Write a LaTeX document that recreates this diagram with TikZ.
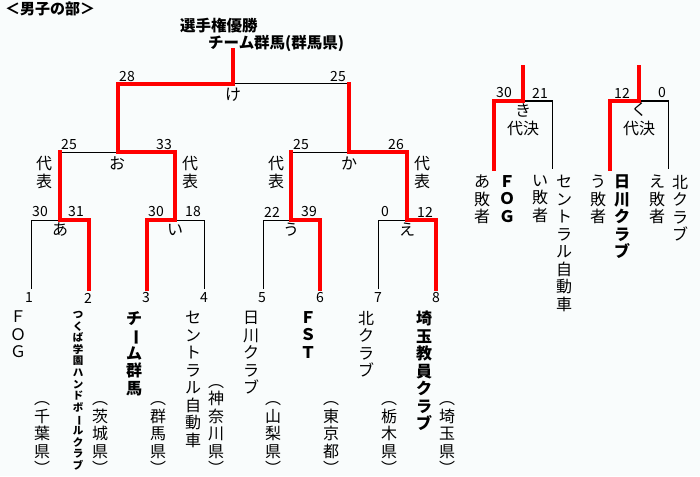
\documentclass[tikz,border=0pt]{standalone}
\usepackage{fontspec}
\usepackage{graphicx}
\setmainfont{Noto Sans CJK JP}
\newcommand\choon{\rotatebox[origin=c]{-90}{ー}}
\definecolor{bgcol}{RGB}{249,252,252}

\begin{document}
\begin{tikzpicture}[x=1pt, y=-1pt,
  win/.style={draw=red, line width=3.3pt, line cap=rect, line join=miter},
  lose/.style={draw=black, line width=1pt},
  pts/.style={inner sep=0pt, font=\fontsize{14}{16}\selectfont},
  lbl/.style={inner sep=0pt, font=\fontsize{16}{18}\selectfont},
  vname/.style={anchor=north, align=center, inner sep=0pt, font=\fontsize{16}{17.5}\selectfont},
  wname/.style={font=\bfseries\fontsize{16}{17.5}\selectfont},
  vpref/.style={anchor=south, align=center, inner sep=0pt, font=\fontsize{16}{17.5}\selectfont},
]
\fill[bgcol] (0,0) rectangle (700,476);

%headings
\node[anchor=west, inner sep=0pt, font=\bfseries\fontsize{15}{17}\selectfont] (head) at (5,9) {＜男子の部＞};
\node[anchor=west, inner sep=0pt, font=\bfseries\fontsize{15.5}{17}\selectfont] (champ) at (180,26) {選手権優勝};
\node[anchor=west, inner sep=0pt, font=\bfseries\fontsize{15.5}{17}\selectfont] (champteam) at (208,43) {チーム群馬(群馬県)};

%bracket points
\foreach \i/\x in {1/31,2/89,3/147,4/204,5/263,6/320,7/378,8/436}
  \coordinate (t\i) at (\x,289);
\coordinate (ma) at (60,220);
\coordinate (mi) at (175,220);
\coordinate (mu) at (291,220);
\coordinate (me) at (407,220);
\coordinate (mo) at (118,152);
\coordinate (mka) at (349,152);
\coordinate (mke) at (233,84);
\coordinate (top) at (233,50);

%losing lines
\draw[lose] (t1) |- (ma);
\draw[lose] (t4) |- (mi);
\draw[lose] (t5) |- (mu);
\draw[lose] (t7) |- (me);
\draw[lose] (ma |- mo) -- (mo);
\draw[lose] (mu |- mka) -- (mka);
\draw[lose] (mka |- mke) -- (mke);

%winning lines
\draw[win] (t2) |- (ma) -- (ma |- mo);
\draw[win] (t6) |- (mu) -- (mu |- mka);
\draw[win] (t8) |- (me) |- (mka) -- (mka |- mke);
\draw[win] (t3) |- (mi) |- (mo) |- (mke) -- (top);

%playoff brackets
\coordinate (ki) at (523,101); \coordinate (kitop) at (523,67);
\coordinate (kil) at (494,169); \coordinate (kir) at (552,169);
\coordinate (ku) at (639,101); \coordinate (kutop) at (639,67);
\coordinate (kul) at (610,169); \coordinate (kur) at (668,169);
\draw[lose] (ki) -| (kir);
\draw[lose] (ku) -| (kur);
\draw[win] (kitop) -- (ki) -| (kil);
\draw[win] (kutop) -- (ku) -| (kul);

%scores
\foreach \nm/\x/\y/\s in {k1/127/77/28, k2/338/77/25, o1/69/145/25, o2/164/145/33,
    ka1/301/145/25, ka2/396/145/26, a1/40/212/30, a2/76/212/31, i1/156/212/30,
    i2/193/212/18, u1/272/212/22, u2/309/212/39, e1/385/212/0, e2/425/212/12,
    ki1/504/93/30, ki2/540/93/21, ku1/622/93/12, ku2/662/93/0}
  \node[pts] (s-\nm) at (\x,\y) {\s};

%match names
\foreach \nm/\x/\y/\t in {ke/233/95/け, o/117/163/お, ka/349/163/か, a/60/230/あ,
    i/175/230/い, u/291/230/う, e/407/230/え, ki/523/110/き, ku/639/110/く}
  \node[lbl] (l-\nm) at (\x,\y) {\t};
\foreach \i/\x in {1/44,2/190,3/276,4/422}
  \node[lbl, align=center] (rep\i) at (\x,172) {代\\表};
\node[lbl] (dk1) at (523,128) {代決};
\node[lbl] (dk2) at (639,128) {代決};

%draw numbers
\foreach \i/\x in {1/29,2/88,3/146,4/204,5/262,6/320,7/378,8/436}
  \node[pts] (n\i) at (\x,298) {\i};

%teams
\node[vname] (team1) at (18,311) {Ｆ\\Ｏ\\Ｇ};
\node[vname, font=\bfseries\fontsize{10.5}{11.6}\selectfont] (team2) at (78,311)
  {つ\\く\\ば\\学\\園\\ハ\\ン\\ド\\ボ\\\choon\\ル\\ク\\ラ\\ブ};
\node[vname, wname] (team3) at (134,311) {チ\\\choon\\ム\\群\\馬};
\node[vname] (team4) at (193,311) {セ\\ン\\ト\\ラ\\ル\\自\\動\\車};
\node[vname] (team5) at (251,311) {日\\川\\ク\\ラ\\ブ};
\node[vname, wname] (team6) at (308,311) {Ｆ\\Ｓ\\Ｔ};
\node[vname] (team7) at (366,311) {北\\ク\\ラ\\ブ};
\node[vname, wname] (team8) at (424,311) {埼\\玉\\教\\員\\ク\\ラ\\ブ};

%prefectures
\foreach \i/\x/\p in {1/42/{千\\葉}, 2/100/{茨\\城}, 3/158/{群\\馬}, 4/216/{神\\奈\\川},
    5/273/{山\\梨}, 7/389/{栃\\木}, 8/447/{埼\\玉}}
  \node[vpref] (pref\i) at (\x,475) {︵\\\p\\県\\︶};
\node[vpref] (pref6) at (331,475) {︵\\東\\京\\都\\︶};

%playoff teams
\node[vname] (c1) at (482,175) {あ\\敗\\者};
\node[vname, wname] (c2) at (507,175) {Ｆ\\Ｏ\\Ｇ};
\node[vname] (c3) at (540,175) {い\\敗\\者};
\node[vname] (c4) at (564,175) {セ\\ン\\ト\\ラ\\ル\\自\\動\\車};
\node[vname] (c5) at (598,175) {う\\敗\\者};
\node[vname, wname] (c6) at (622,175) {日\\川\\ク\\ラ\\ブ};
\node[vname] (c7) at (657,175) {え\\敗\\者};
\node[vname] (c8) at (680,175) {北\\ク\\ラ\\ブ};

\end{tikzpicture}
\end{document}
